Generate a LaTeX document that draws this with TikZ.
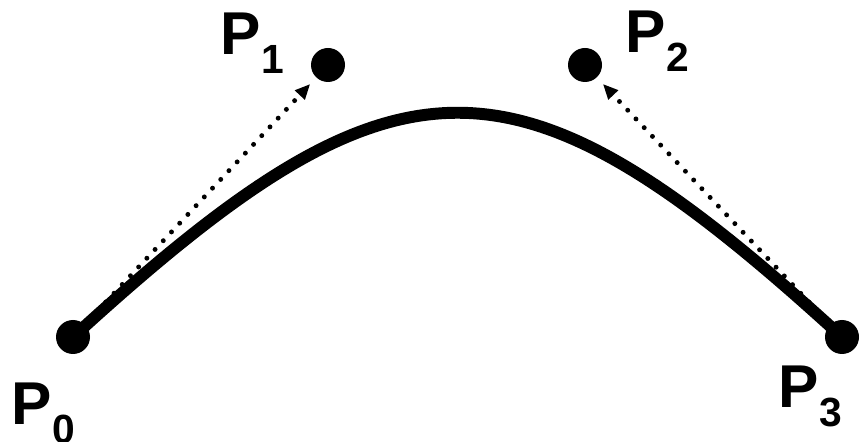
\documentclass[tikz,border=0pt]{standalone}
\usepackage{fontspec}
\setmainfont{Liberation Sans}
\usetikzlibrary{arrows.meta}

\newcommand{\lowidx}[1]{\raisebox{-13.5pt}{\fontsize{29}{29}\selectfont #1}}

\begin{document}
\begin{tikzpicture}[
  ctrl/.style={circle, fill=black, minimum size=0.85cm, inner sep=0pt},
  lbl/.style={anchor=base west, inner sep=0pt, font=\fontsize{43}{43}\selectfont\bfseries},
  bezier/.style={line width=8.5pt},
  tangent/.style={-{Triangle[length=0.38cm,width=0.32cm]}, line width=3.5pt, line cap=round,
                  dash pattern=on 0pt off 0.3cm, shorten >=0.22cm},
]
\useasboundingbox (0,0) rectangle (21.55,11.05);

% control points
\node[ctrl] (p0) at (1.825,2.625) {};
\node[ctrl] (p1) at (8.2,9.425) {};
\node[ctrl] (p2) at (14.625,9.425) {};
\node[ctrl] (p3) at (21.05,2.625) {};

\node[lbl] (l0) at (0.29,0.425) {P\lowidx{0}};
\node[lbl] (l1) at (5.51,9.675) {P\lowidx{1}};
\node[lbl] (l2) at (15.64,9.725) {P\lowidx{2}};
\node[lbl] (l3) at (19.46,0.85) {P\lowidx{3}};

\coordinate (c1) at (10.0,10.1);
\coordinate (c2) at (12.875,10.1);

\draw[bezier] (p0.center) .. controls (c1) and (c2) .. (p3.center);
\draw[tangent] (p0.center) -- (p1);
\draw[tangent] (p3.center) -- (p2);

\end{tikzpicture}
\end{document}
